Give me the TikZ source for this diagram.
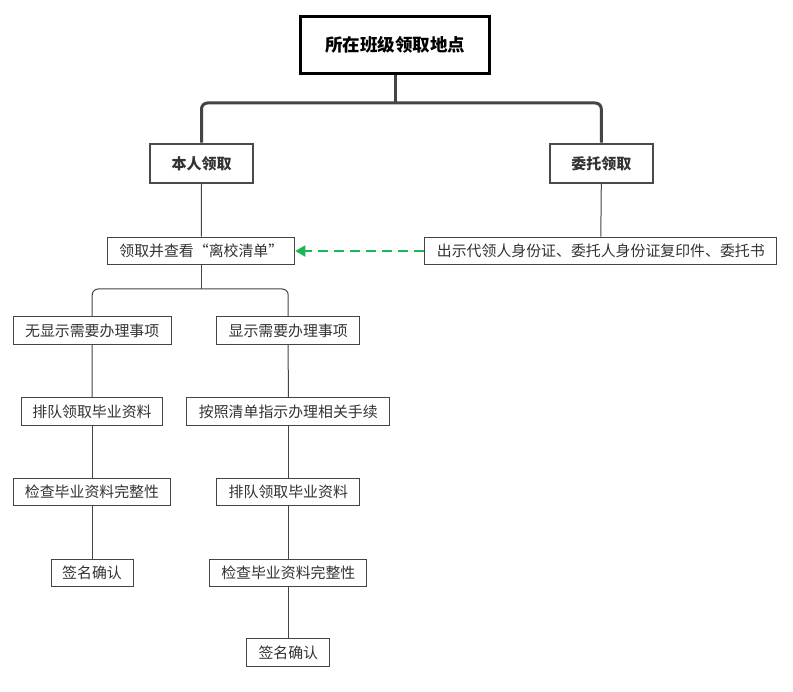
\documentclass[tikz,border=0pt]{standalone}
\usepackage{fontspec}
\setmainfont{Noto Sans CJK SC}
\usetikzlibrary{arrows.meta}
\definecolor{lc}{HTML}{444444}
\definecolor{tc}{HTML}{333333}
\definecolor{gr}{HTML}{1DB45A}
\begin{document}
\begin{tikzpicture}[x=1pt,y=-1pt,
  box/.style={draw=lc, line width=1pt, inner sep=0pt, minimum height=27.6pt,
    text=tc, font=\fontsize{14.9pt}{16pt}\selectfont},
  midbox/.style={draw=lc!90!gray, line width=2pt, inner sep=0pt, minimum height=39.5pt,
    text=tc, font=\fontsize{15pt}{17pt}\selectfont\bfseries},
  topbox/.style={draw=black, line width=3pt, inner sep=0pt, minimum width=188.4pt,
    minimum height=57pt, font=\fontsize{17.5pt}{20pt}\selectfont\bfseries},
  thickconn/.style={draw=lc, line width=3pt, rounded corners=6pt},
  conn/.style={draw=lc, line width=1pt, rounded corners=6pt},
  dasharrow/.style={draw=gr, line width=2pt, dash pattern=on 10pt off 6pt,
    -{Triangle[length=10pt,width=11pt]}}
]
\useasboundingbox[fill=white] (0,0) rectangle (793,692);

\node[topbox] (top) at (395,44.7) {所在班级领取地点};
\node[midbox, minimum width=103pt] (self) at (201.5,163.5) {本人领取};
\node[midbox, minimum width=102.7pt] (proxy) at (601.3,163.4) {委托领取};

\coordinate (j1) at (395,103);
\draw[thickconn] (top.south) -- (j1);
\draw[thickconn] (self.north) |- (j1) -| (proxy.north);

\node[box, minimum width=187pt] (check) at (201.3,251) {领取并查看“离校清单”};
\node[box, minimum width=352pt] (show) at (600.8,251) {出示代领人身份证、委托人身份证复印件、委托书};

\draw[conn] (self.south) -- (check.north);
\draw[conn] (proxy.south) -- (show.north);
\draw[dasharrow] (show.west) -- (check.east);

\node[box, minimum width=158pt] (no) at (92.2,330.7) {无显示需要办理事项};
\node[box, minimum width=143pt] (yes) at (288.2,330.7) {显示需要办理事项};

\coordinate (j2) at (201.3,289);
\draw[conn] (check.south) -- (j2);
\draw[conn] (no.north) |- (j2) -| (yes.north);

\node[box, minimum width=141.6pt] (l1) at (92,411.8) {排队领取毕业资料};
\node[box, minimum width=157.6pt] (l2) at (92,492) {检查毕业资料完整性};
\node[box, minimum width=82pt] (l3) at (92,572.8) {签名确认};

\node[box, minimum width=203pt] (r1) at (288.3,411.8) {按照清单指示办理相关手续};
\node[box, minimum width=143pt] (r2) at (288.3,492) {排队领取毕业资料};
\node[box, minimum width=157pt] (r3) at (288.3,572.8) {检查毕业资料完整性};
\node[box, minimum width=83pt] (r4) at (288.3,652.7) {签名确认};

\draw[conn] (no.south) -- (l1.north);
\draw[conn] (l1.south) -- (l2.north);
\draw[conn] (l2.south) -- (l3.north);
\draw[conn] (yes.south) -- (r1.north);
\draw[conn] (r1.south) -- (r2.north);
\draw[conn] (r2.south) -- (r3.north);
\draw[conn] (r3.south) -- (r4.north);
\end{tikzpicture}
\end{document}
